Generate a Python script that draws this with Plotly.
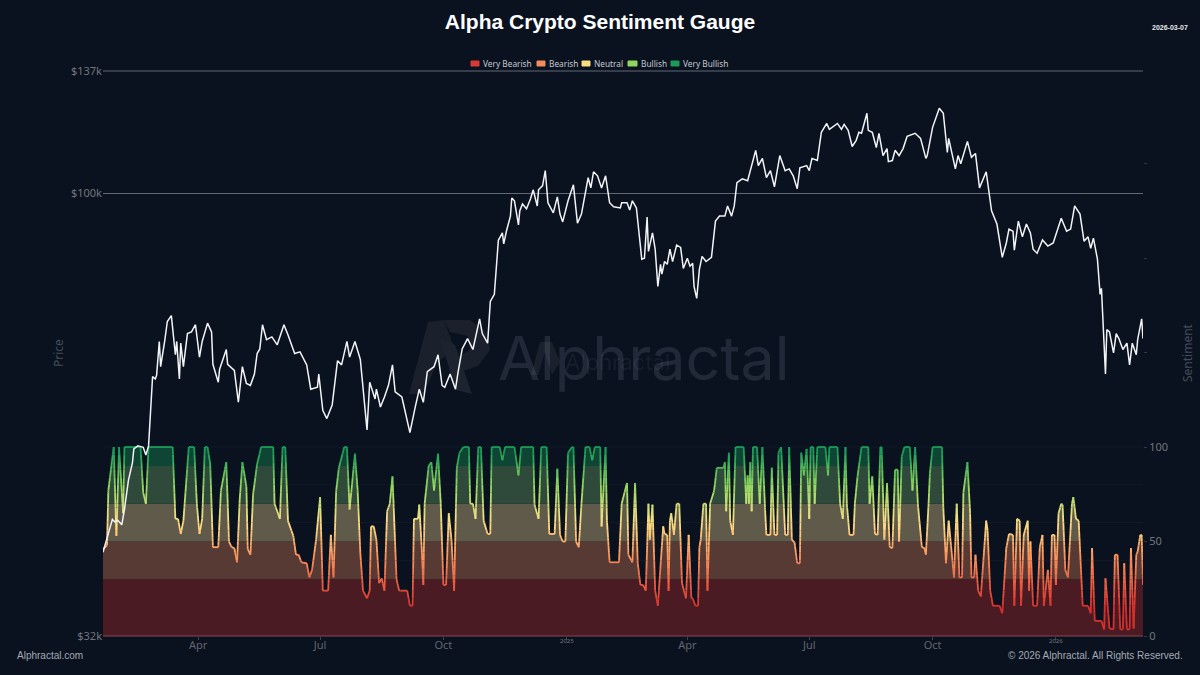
import numpy as np
import pandas as pd
import plotly.graph_objects as go

start = pd.Timestamp('2024-01-21')
end_day = 776

# BTC price in $k, days counted from start
price_days = [0,5,7,9,11,14,16,19,22,23,26,30,32,34,35,37,39,40,42,43,46,48,51,54,55,57,58,60,63,66,69,72,74,78,81,82,86,87,92,93,98,101,104,107,110,113,115,117,119,122,126,130,135,138,143,147,152,155,160,161,164,167,171,175,178,182,184,188,192,194,197,199,203,204,207,210,213,216,218,223,225,229,233,236,239,242,247,250,253,255,259,263,265,268,272,276,281,283,287,289,292,295,298,299,301,304,305,307,310,311,313,316,319,321,324,325,328,330,332,336,339,341,343,347,351,354,357,360,362,364,366,369,372,375,378,381,386,387,391,393,395,398,402,404,406,407,410,412,414,416,417,419,421,423,425,428,431,433,436,438,440,441,443,445,447,450,454,457,460,464,466,469,471,473,477,481,483,487,489,492,495,498,501,505,509,512,515,518,520,525,527,529,533,536,540,542,548,551,553,556,559,562,564,566,570,571,574,577,579,582,585,586,589,591,594,597,600,606,610,612,614,615,619,624,627,630,631,636,638,640,643,645,648,651,654,656,659,663,667,671,674,676,679,680,683,686,689,692,694,697,701,705,709,715,719,722,725,729,732,735,737,739,742,744,745,748,749,751,754,756,758,761,764,766,768,771,772,775,776]
price_k = [39.7,42.0,43.2,42.9,43.1,42.6,44.3,47.8,50.0,51.8,52.2,52.0,51.0,52.2,55.5,62.4,62.0,62.6,68.3,64.0,68.3,71.9,73.0,66.0,68.3,62.0,68.0,64.0,69.7,70.0,71.3,65.6,68.3,71.6,70.0,64.4,61.5,63.6,66.9,64.4,63.4,58.4,64.0,61.3,61.0,62.8,66.2,67.0,71.3,68.6,69.1,67.7,71.3,69.5,66.2,66.5,64.3,60.4,60.7,62.8,57.2,56.0,58.0,65.0,64.3,68.3,65.6,68.3,65.2,61.0,54.4,61.5,58.9,60.4,57.7,59.2,61.0,64.3,60.0,59.2,57.4,54.0,57.7,60.4,58.4,63.2,64.0,66.0,61.0,60.7,62.8,60.4,63.2,67.0,68.8,66.9,72.4,69.7,68.0,75.7,77.1,88.6,90.3,87.8,90.7,94.3,98.8,98.1,92.2,95.6,97.3,96.1,98.6,100.9,96.8,100.9,102.0,106.0,97.6,95.1,99.1,94.8,92.9,98.1,102.2,92.6,94.8,100.1,104.1,101.4,105.7,104.6,101.4,104.6,97.6,96.6,96.3,97.6,97.6,95.8,98.1,96.3,84.4,84.6,94.1,86.1,90.3,86.6,78.7,83.3,81.2,83.9,83.3,86.6,83.9,87.5,87.0,82.4,84.6,82.9,83.5,78.7,76.3,82.2,85.0,83.9,84.8,93.1,94.3,94.3,96.8,94.3,96.8,102.8,103.8,103.3,106.0,111.7,107.4,109.4,104.1,106.0,101.7,110.2,106.0,106.5,104.6,101.2,106.8,107.4,106.0,109.4,108.8,117.0,119.7,117.9,119.7,117.9,119.4,117.6,112.8,114.6,117.0,116.7,122.9,117.6,117.0,112.5,116.7,110.2,112.2,108.5,108.8,111.7,110.2,112.2,115.8,116.7,115.2,112.2,109.4,110.2,118.5,124.5,122.9,111.1,115.2,106.5,110.2,107.9,111.7,114.3,109.7,110.8,101.4,103.3,105.7,95.6,92.4,84.8,88.0,91.2,90.7,86.4,93.1,89.4,92.4,90.3,86.6,85.7,88.7,87.3,88.0,93.8,90.7,91.2,96.8,94.8,88.4,89.4,86.8,89.1,84.4,77.1,78.3,62.8,70.4,70.0,66.3,69.7,68.8,66.9,68.0,64.3,68.0,66.0,68.6,72.4,68.8]

# sentiment gauge 0-100
sent_days = [0,3,4,8,10,12,15,16,28,30,32,34,52,54,56,58,60,64,68,70,72,74,76,78,80,82,86,88,92,94,96,98,100,102,104,107,108,110,112,115,118,127,128,132,134,136,138,142,144,146,148,152,154,156,159,162,164,168,170,172,174,176,180,182,184,188,190,192,194,197,199,200,202,204,206,208,210,212,214,216,219,221,222,227,229,231,232,235,236,238,239,240,243,245,247,250,252,254,256,258,260,262,264,266,269,273,274,276,278,280,282,284,287,289,290,296,298,300,307,310,312,321,322,325,327,331,333,337,339,341,343,345,347,350,351,353,355,357,360,363,365,367,371,372,375,376,378,385,387,391,392,395,397,399,401,403,405,407,408,410,412,414,418,419,421,422,423,424,426,428,430,432,435,437,439,440,442,444,445,446,448,450,451,453,456,458,463,464,465,467,468,470,472,478,480,481,482,483,484,485,488,490,492,494,495,498,499,501,503,504,506,509,511,512,514,516,518,520,521,523,525,527,528,530,531,533,539,541,542,548,550,552,554,555,556,557,560,561,563,566,571,572,574,576,578,580,581,583,585,587,589,591,593,594,596,598,602,604,606,608,611,613,614,616,617,619,626,627,629,631,634,635,637,639,641,642,645,647,648,650,651,653,655,659,660,662,664,669,671,674,676,679,680,682,684,685,687,690,691,692,694,697,699,701,702,705,707,708,710,711,713,715,716,718,720,723,724,726,728,731,735,737,738,740,745,747,748,751,754,755,757,759,761,762,764,766,767,769,771,772,774,775,776]
sent_vals = [46,48,77,100,53,100,65,100,100,76,70,100,100,62,62,54,61,100,100,70,54,62,100,100,91,47,47,77,92,50,47,46.5,39,72,92,79,46,43,75,91,100,100,70,62,100,100,61,53,43,43,39,38.5,31,35,51,73.5,24,24,53.5,31,77,89,100,100,67,96.5,77,44,24,20,24,58,58,51,28,30.5,24,66,70,84.5,30,24,24,24,16,16,62,62,69.5,44,27,70,90,92,77,96.5,70,27,27,65,51,24,89,97,100,100,70,70,62,100,100,61,54,54,100,100,93,100,100,85,100,100,69.5,62,100,100,54,54,88.5,53.5,50,50,97,100,100,50,47,70,100,100,93,100,100,58,100,61,39,39,70,81,43,39,81,38.5,27,27,24,70,51,69.5,24,16,58,54,53.5,24,61,65,53.5,70,70,28,20,53.5,20,20,16,16,47,51,70,70,24,70,77,89,89,92,66,97,61,53.5,100,100,70,85,70,92,66,100,100,70,100,67,53.5,53.5,89,53.5,53.5,97,100,53.5,53.5,100,51,49.5,38.5,38.5,97,85,99,62,100,100,70,100,100,85,100,100,70,62,100,70,62,53.5,53.5,70,84.5,100,100,70,84.5,54,53.5,100,100,51,81,47,46.5,88,88,50,95,100,100,77,100,70,47,46.5,43,70,86,100,100,68,38.5,61,38.5,31,70,31,31,76,92,65,31,31,43,24,21,61,56,24,16,16,12,46.5,54,53.5,16,62,61,16,53.5,61,24,50,16,16,47,53.5,16,35,16,53.5,53.5,27,65,70,69.5,35,31,70,73.5,62,61,16,16,12,46.5,8,8,3.5,30.5,4,3.5,43,43,3.5,3.5,38.5,3.5,3.5,46.5,4,43,44.7,53.5,53.5,27]

band_names = ['Very Bearish', 'Bearish', 'Neutral', 'Bullish', 'Very Bullish']
band_edges = [0, 30, 50, 70, 90, 100]
band_fills = ['#4a1b22', '#583a34', '#5f5a4a', '#2f4a3a', '#0e4535']
legend_colors = ['#d93a34', '#f58b58', '#fbdc80', '#90d460', '#1b9c58']

price_ticks = [32, 100, 137]
price_labels = ['$32k', '$100k', '$137k']
sent_ticks = [0, 50, 100, 150, 200, 250]
sent_labels = ['0', '50', '100', '', '', '']
x_ticks = ['2024-04-01', '2024-07-01', '2024-10-01', '2025-01-01', '2025-04-01', '2025-07-01', '2025-10-01', '2026-01-01']
x_labels = ['Apr', 'Jul', 'Oct', ' ', 'Apr', 'Jul', 'Oct', ' ']
year_ticks = ['2025-01-01', '2026-01-01']
year_labels = ['2025', '2026']

BG = '#0a1220'
GREY = '#72757d'
W, H = 1200, 675
L, R, T, B = 103, 1143, 71, 636

def to_date(days):
    return start + pd.to_timedelta(np.asarray(days, dtype=float), unit='D')

def px(x): return (x - L) / (R - L)
def py(y): return (B - y) / (B - T)

# colour ramp for the gauge line
ramp_v = [15, 40, 60, 80, 97]
ramp_c = np.array([[217, 48, 44], [250, 140, 88], [255, 224, 135], [144, 216, 96], [27, 156, 88]])
def ramp(v):
    return 'rgb(%d,%d,%d)' % tuple(int(np.interp(v, ramp_v, ramp_c[:, k])) for k in range(3))

# cut the polyline where it crosses colour levels so it can be drawn as a gradient
levels = sorted(set(list(range(0, 101, 4)) + band_edges))
dd, vv = [], []
for i in range(len(sent_days) - 1):
    d0, d1, v0, v1 = sent_days[i], sent_days[i + 1], sent_vals[i], sent_vals[i + 1]
    dd.append(d0); vv.append(v0)
    cross = [l for l in levels if min(v0, v1) < l < max(v0, v1)]
    if v1 < v0:
        cross = cross[::-1]
    for l in cross:
        dd.append(d0 + (l - v0) / (v1 - v0) * (d1 - d0)); vv.append(l)
dd.append(sent_days[-1]); vv.append(sent_vals[-1])
dd, vv = np.array(dd), np.array(vv, dtype=float)

fig = go.Figure()

# zone fills, only under the line
for i, name in enumerate(band_names):
    lo, hi = band_edges[i], band_edges[i + 1]
    top = np.clip(vv, lo, hi)
    xs = np.concatenate([dd, dd[::-1]])
    ys = np.concatenate([top, np.full(len(dd), lo)])
    fig.add_trace(go.Scatter(x=to_date(xs), y=ys, mode='lines', fill='toself', fillcolor=band_fills[i],
                             line=dict(width=0), name=name, showlegend=False, hoverinfo='skip', yaxis='y'))

# gradient line
buckets = {}
mids = (vv[:-1] + vv[1:]) / 2
for i, m in enumerate(mids):
    idx = int(np.searchsorted(levels, m, side='left'))
    b = buckets.setdefault(idx, ([], []))
    b[0].extend([dd[i], dd[i + 1], None])
    b[1].extend([vv[i], vv[i + 1], None])
for idx, (bx, by) in sorted(buckets.items()):
    lo = levels[max(idx - 1, 0)]
    hi = levels[min(idx, len(levels) - 1)]
    xdates = [None if d is None else start + pd.Timedelta(days=float(d)) for d in bx]
    fig.add_trace(go.Scatter(x=xdates, y=by, mode='lines', line=dict(color=ramp((lo + hi) / 2), width=1.8),
                             showlegend=False, hoverinfo='skip', connectgaps=False, yaxis='y'))

# price on the overlaying axis so it stays above the gauge
fig.add_trace(go.Scatter(x=to_date(price_days), y=price_k, mode='lines', name='Price',
                         line=dict(color='#f2f3f5', width=1.5), showlegend=False, yaxis='y2'))

shapes = []
# faint gauge grid
for g in [40, 60, 80, 100]:
    shapes.append(dict(type='line', xref='paper', x0=0, x1=1, yref='y', y0=g, y1=g,
                       line=dict(color='rgba(255,255,255,0.035)', width=1), layer='below'))
# top and bottom price gridlines sit on the plot edge
shapes.append(dict(type='line', xref='paper', x0=0, x1=1, yref='paper', y0=1, y1=1, line=dict(color='#626875', width=1)))
shapes.append(dict(type='line', xref='paper', x0=0, x1=1, yref='paper', y0=0, y1=0, line=dict(color='#8b4450', width=1)))

def path_shape(pts, color):
    d = 'M' + ' L'.join('%.4f,%.4f' % (px(a), py(b)) for a, b in pts) + ' Z'
    return dict(type='path', xref='paper', yref='paper', path=d, fillcolor=color, line=dict(width=0), layer='below')

# watermark logo
shapes.append(path_shape([(409, 394), (428, 322), (444, 320), (455, 350), (437, 362), (424, 394)], '#1a212d'))
shapes.append(path_shape([(444, 320), (470, 320), (487, 332), (490, 350), (478, 366), (460, 372), (456, 358), (470, 350), (468, 336), (450, 332)], '#1a212d'))
shapes.append(path_shape([(440, 338), (455, 345), (472, 394), (456, 390)], '#1d2430'))
shapes.append(path_shape([(531, 375), (540, 342), (552, 342), (560, 362), (552, 375), (545, 352), (538, 375)], '#1a212d'))

# legend swatches
swatch_x = [(471, 479), (537, 545), (582, 590), (628, 637), (671, 679)]
for (x0, x1), c in zip(swatch_x, legend_colors):
    shapes.append(dict(type='rect', xref='paper', yref='paper', x0=px(x0), x1=px(x1), y0=py(66), y1=py(61),
                       fillcolor=c, line=dict(color=c, width=1)))

def note(x, y, text, size, color, anchor='left', family='Liberation Sans', **kw):
    return dict(xref='paper', yref='paper', x=px(x), y=py(y), text=text, showarrow=False, xanchor=anchor, yanchor='middle',
                font=dict(size=size, color=color, family=family), **kw)

annotations = [
    note(496, 358, 'Alphractal', 61, 'rgba(150,160,175,0.17)', family='Inter'),
    note(563, 362, 'Alphractal', 22, 'rgba(150,160,175,0.09)', family='Inter'),
    note(1190, 27, '<b>2026-03-07</b>', 7, '#e6e8ec', 'right'),
    note(15, 655, 'Alphractal.com', 10, '#a4a9b3'),
    note(1185, 655, '© 2026 Alphractal. All Rights Reserved.', 10, '#a4a9b3', 'right'),
    note(58, 353, 'Price', 12, '#454c5a', 'center', family='Noto Sans', textangle=-90),
    note(1187, 353, 'Sentiment', 12, '#454c5a', 'center', family='Noto Sans', textangle=-90),
]
legend_text_x = [481, 547, 592, 639, 681]
for x, name in zip(legend_text_x, band_names):
    annotations.append(note(x, 63.5, name, 8.3, '#c6c9cf', family='Noto Sans'))
for d, t in zip(year_ticks, year_labels):
    annotations.append(dict(xref='x', yref='paper', x=d, y=py(641), text=t, showarrow=False, xanchor='center', yanchor='middle',
                            font=dict(size=6, color=GREY, family='Noto Sans')))

fig.update_layout(
    width=W, height=H, autosize=False,
    paper_bgcolor=BG, plot_bgcolor=BG,
    margin=dict(l=L, r=W - R, t=T, b=H - B, autoexpand=False),
    title=dict(text='<b>Alpha Crypto Sentiment Gauge</b>', x=0.5, xanchor='center', xref='container', y=1 - 22 / H, yanchor='middle',
               font=dict(family='Liberation Sans', size=21, color='#ffffff')),
    showlegend=False,
    shapes=shapes, annotations=annotations,
    xaxis=dict(type='date', range=[start, start + pd.Timedelta(days=end_day)], tickvals=x_ticks, ticktext=x_labels,
               showgrid=False, zeroline=False, showline=False, ticks='outside', ticklen=3, tickcolor='#3a4150',
               ticklabelstandoff=-4,
               tickfont=dict(family='Noto Sans', size=11, color='#62656d')),
    yaxis=dict(side='right', range=[0, 299], tickvals=sent_ticks, ticktext=sent_labels, showgrid=False, zeroline=False,
               showline=False, ticks='outside', ticklen=3, tickcolor='#2f3644',
               tickfont=dict(family='Noto Sans', size=11, color=GREY)),
    yaxis2=dict(type='log', overlaying='y', side='left', range=[np.log10(32), np.log10(137)], tickvals=price_ticks,
                ticktext=price_labels, showgrid=True, gridcolor='#626875', gridwidth=1, zeroline=False, showline=False,
                ticks='', tickfont=dict(family='Noto Sans', size=11, color=GREY)),
)

fig.write_html("out.html", config={'displayModeBar': False},
               post_script="document.body.style.margin='0';document.documentElement.style.background='%s';" % BG)
